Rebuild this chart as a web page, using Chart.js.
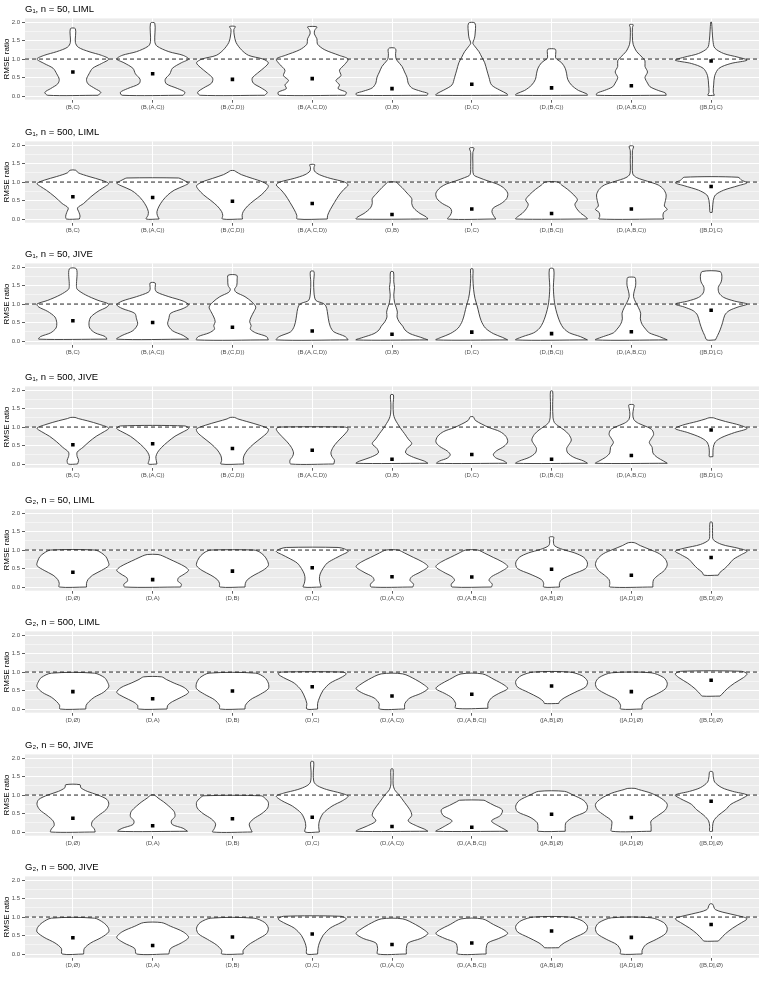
<!DOCTYPE html>
<html>
<head>
<meta charset="utf-8">
<script src="https://cdn.jsdelivr.net/npm/chart.js@4.4.0/dist/chart.umd.min.js"></script>
<style>
  body { margin: 0; background: #fff; }
  #wrap { position: relative; width: 763px; height: 981px; }
  .panel { position: absolute; left: 0; width: 763px; }
</style>
</head>
<body>
<div id="wrap"></div>
<script>
// categories
const g1Labels = ['(B,C)', '(B,(A,C))', '(B,(C,D))', '(B,(A,C,D))', '(D,B)', '(D,C)', '(D,(B,C))', '(D,(A,B,C))', '([B,D],C)'];
const g2Labels = ['(D,Ø)', '(D,A)', '(D,B)', '(D,C)', '(D,(A,C))', '(D,(A,B,C))', '([A,B],Ø)', '([A,D],Ø)', '([B,D],Ø)'];
const panelTitles = ['G₁, n = 50, LIML', 'G₁, n = 500, LIML', 'G₁, n = 50, JIVE', 'G₁, n = 500, JIVE',
                     'G₂, n = 50, LIML', 'G₂, n = 500, LIML', 'G₂, n = 50, JIVE', 'G₂, n = 500, JIVE'];

// y axis ticks
const yTickValues = [0, 0.25, 0.5, 0.75, 1, 1.25, 1.5, 1.75, 2];
const yMajor = [0, 0.5, 1, 1.5, 2];
const yTickLabels = ['0.0', '0.5', '1.0', '1.5', '2.0'];
const refLine = 1;

// mean RMSE ratio per category
const meansG1n50LIML  = [0.65, 0.60, 0.45, 0.47, 0.20, 0.32, 0.22, 0.28, 0.95];
const meansG1n500LIML = [0.60, 0.58, 0.48, 0.42, 0.12, 0.27, 0.15, 0.27, 0.88];
const meansG1n50JIVE  = [0.55, 0.50, 0.37, 0.27, 0.18, 0.24, 0.20, 0.25, 0.83];
const meansG1n500JIVE = [0.52, 0.55, 0.42, 0.37, 0.13, 0.26, 0.13, 0.23, 0.92];
const meansG2n50LIML  = [0.40, 0.20, 0.43, 0.52, 0.28, 0.27, 0.48, 0.32, 0.80];
const meansG2n500LIML = [0.47, 0.28, 0.49, 0.60, 0.35, 0.40, 0.62, 0.47, 0.78];
const meansG2n50JIVE  = [0.37, 0.17, 0.36, 0.40, 0.15, 0.13, 0.48, 0.39, 0.83];
const meansG2n500JIVE = [0.44, 0.23, 0.46, 0.54, 0.26, 0.30, 0.62, 0.45, 0.80];

// violin outlines: [ratio, relative density width] from bottom to top
const violinsG1n50LIML = [
  [[0.02,0.7],[0.1,0.78],[0.2,0.62],[0.33,0.42],[0.45,0.38],[0.6,0.45],[0.75,0.55],[0.88,0.8],[1.0,1.0],[1.1,0.8],[1.2,0.45],[1.32,0.15],[1.45,0.07],[1.82,0.07]],
  [[0.02,0.85],[0.1,0.9],[0.2,0.7],[0.33,0.38],[0.45,0.35],[0.6,0.48],[0.75,0.55],[0.9,0.8],[1.0,1.0],[1.1,0.85],[1.2,0.45],[1.35,0.12],[1.47,0.06],[1.97,0.06]],
  [[0.02,0.9],[0.1,0.97],[0.22,0.8],[0.35,0.58],[0.48,0.55],[0.62,0.7],[0.78,0.9],[0.9,1.0],[1.0,0.85],[1.1,0.45],[1.25,0.25],[1.45,0.1],[1.65,0.05],[1.8,0.04],[1.88,0.08]],
  [[0.02,0.92],[0.1,0.95],[0.2,0.72],[0.3,0.76],[0.42,0.66],[0.55,0.8],[0.7,0.76],[0.85,0.9],[1.0,1.0],[1.1,0.75],[1.25,0.35],[1.4,0.15],[1.55,0.13],[1.68,0.06],[1.78,0.07],[1.87,0.13]],
  [[0.02,0.98],[0.07,1.0],[0.13,0.8],[0.22,0.55],[0.35,0.45],[0.5,0.42],[0.65,0.35],[0.8,0.28],[0.95,0.15],[1.02,0.11],[1.15,0.1],[1.25,0.11],[1.3,0.07]],
  [[0.02,1.0],[0.06,0.98],[0.16,0.78],[0.3,0.55],[0.5,0.48],[0.7,0.42],[0.9,0.36],[1.05,0.28],[1.2,0.2],[1.35,0.08],[1.43,0.03],[1.55,0.07],[1.65,0.09],[1.97,0.09]],
  [[0.02,1.0],[0.06,0.98],[0.15,0.75],[0.3,0.55],[0.45,0.45],[0.6,0.42],[0.75,0.38],[0.9,0.28],[1.0,0.14],[1.05,0.11],[1.2,0.12],[1.27,0.1]],
  [[0.02,0.97],[0.08,0.95],[0.15,0.75],[0.25,0.52],[0.35,0.45],[0.5,0.38],[0.65,0.45],[0.8,0.38],[0.95,0.38],[1.05,0.3],[1.2,0.15],[1.4,0.05],[1.6,0.03],[1.85,0.03],[1.93,0.05]],
  [[0.02,0.09],[0.1,0.06],[0.3,0.07],[0.55,0.1],[0.75,0.22],[0.88,0.55],[0.97,1.0],[1.05,0.75],[1.15,0.35],[1.3,0.1],[1.5,0.05],[1.75,0.03],[2.0,0.01]]
];
const violinsG1n500LIML = [
  [[0.0,0.18],[0.08,0.2],[0.18,0.17],[0.3,0.13],[0.42,0.3],[0.6,0.5],[0.78,0.74],[0.88,0.9],[0.96,1.0],[1.05,0.8],[1.15,0.45],[1.25,0.15],[1.32,0.08]],
  [[0.0,0.18],[0.1,0.13],[0.2,0.12],[0.35,0.18],[0.5,0.28],[0.65,0.42],[0.78,0.6],[0.9,0.88],[0.97,1.0],[1.03,0.9],[1.08,0.8],[1.11,0.72]],
  [[0.0,0.28],[0.1,0.27],[0.2,0.3],[0.35,0.42],[0.5,0.6],[0.65,0.8],[0.8,0.95],[0.9,1.0],[1.0,0.85],[1.1,0.55],[1.2,0.25],[1.28,0.1],[1.31,0.05]],
  [[0.0,0.42],[0.1,0.43],[0.25,0.5],[0.45,0.62],[0.65,0.75],[0.8,0.88],[0.92,1.0],[1.0,0.9],[1.1,0.5],[1.2,0.2],[1.3,0.06],[1.4,0.05],[1.47,0.07]],
  [[0.0,1.0],[0.06,0.95],[0.15,0.78],[0.3,0.6],[0.42,0.55],[0.55,0.55],[0.7,0.42],[0.85,0.28],[0.95,0.17],[1.0,0.12]],
  [[0.0,0.67],[0.1,0.6],[0.2,0.56],[0.3,0.6],[0.42,0.82],[0.55,0.97],[0.7,1.0],[0.85,0.88],[0.95,0.7],[1.03,0.45],[1.12,0.2],[1.2,0.05],[1.5,0.03],[1.8,0.03],[1.92,0.06]],
  [[0.0,1.0],[0.06,0.95],[0.15,0.82],[0.28,0.7],[0.4,0.65],[0.52,0.72],[0.65,0.62],[0.8,0.45],[0.92,0.28],[1.0,0.18]],
  [[0.0,0.9],[0.08,0.88],[0.18,0.9],[0.26,1.0],[0.35,0.92],[0.5,0.95],[0.65,0.97],[0.8,0.9],[0.92,0.75],[1.02,0.45],[1.12,0.15],[1.22,0.04],[1.6,0.03],[1.85,0.03],[1.97,0.06]],
  [[0.18,0.03],[0.3,0.04],[0.5,0.06],[0.65,0.12],[0.78,0.35],[0.9,0.75],[0.98,1.0],[1.05,0.85],[1.13,0.75]]
];
const violinsG1n50JIVE = [
  [[0.05,0.95],[0.12,0.9],[0.22,0.62],[0.35,0.47],[0.5,0.45],[0.65,0.5],[0.8,0.7],[0.92,0.95],[1.0,1.0],[1.1,0.7],[1.25,0.35],[1.4,0.12],[1.5,0.1],[1.95,0.1]],
  [[0.05,1.0],[0.15,0.85],[0.28,0.55],[0.45,0.42],[0.6,0.45],[0.75,0.5],[0.88,0.85],[0.98,1.0],[1.08,0.85],[1.2,0.45],[1.32,0.12],[1.4,0.07],[1.57,0.07]],
  [[0.03,1.0],[0.12,0.95],[0.22,0.65],[0.32,0.5],[0.42,0.52],[0.52,0.48],[0.65,0.52],[0.8,0.6],[0.92,0.65],[1.05,0.55],[1.2,0.35],[1.32,0.1],[1.4,0.06],[1.5,0.12],[1.65,0.13],[1.78,0.12]],
  [[0.03,1.0],[0.12,0.92],[0.25,0.6],[0.4,0.5],[0.6,0.45],[0.8,0.42],[0.95,0.38],[1.02,0.3],[1.1,0.1],[1.3,0.05],[1.6,0.04],[1.88,0.05]],
  [[0.03,1.0],[0.1,0.8],[0.2,0.5],[0.3,0.36],[0.4,0.3],[0.52,0.2],[0.65,0.14],[0.78,0.15],[0.9,0.12],[1.05,0.07],[1.25,0.05],[1.45,0.07],[1.6,0.05],[1.87,0.04]],
  [[0.03,1.0],[0.1,0.85],[0.2,0.6],[0.35,0.38],[0.55,0.26],[0.75,0.2],[0.95,0.15],[1.15,0.09],[1.4,0.05],[1.7,0.03],[1.95,0.03]],
  [[0.03,1.0],[0.12,0.8],[0.22,0.5],[0.35,0.33],[0.5,0.24],[0.65,0.18],[0.85,0.12],[1.05,0.08],[1.25,0.06],[1.45,0.05],[1.95,0.06]],
  [[0.03,1.0],[0.12,0.78],[0.22,0.5],[0.32,0.4],[0.45,0.3],[0.6,0.25],[0.75,0.26],[0.9,0.2],[1.05,0.12],[1.2,0.06],[1.35,0.08],[1.5,0.12],[1.65,0.12],[1.72,0.1]],
  [[0.03,0.12],[0.15,0.18],[0.3,0.25],[0.5,0.32],[0.7,0.38],[0.82,0.5],[0.92,0.75],[1.0,1.0],[1.08,0.65],[1.18,0.35],[1.3,0.22],[1.45,0.2],[1.6,0.28],[1.75,0.3],[1.88,0.25]]
];
const violinsG1n500JIVE = [
  [[0.0,0.13],[0.1,0.16],[0.2,0.12],[0.32,0.12],[0.45,0.28],[0.6,0.45],[0.75,0.65],[0.88,0.88],[0.97,1.0],[1.07,0.75],[1.17,0.4],[1.23,0.15],[1.26,0.06]],
  [[0.0,0.12],[0.1,0.1],[0.2,0.09],[0.32,0.14],[0.45,0.25],[0.6,0.42],[0.75,0.62],[0.87,0.85],[0.96,1.0],[1.03,0.9]],
  [[0.0,0.32],[0.1,0.3],[0.22,0.32],[0.38,0.42],[0.55,0.6],[0.72,0.82],[0.85,0.97],[0.95,1.0],[1.05,0.75],[1.15,0.4],[1.22,0.15],[1.26,0.06]],
  [[0.0,0.6],[0.1,0.62],[0.2,0.55],[0.3,0.52],[0.45,0.58],[0.6,0.7],[0.75,0.85],[0.88,0.97],[0.96,1.0],[1.0,0.9]],
  [[0.02,1.0],[0.08,0.9],[0.18,0.6],[0.3,0.38],[0.42,0.42],[0.55,0.55],[0.68,0.45],[0.82,0.35],[0.95,0.25],[1.1,0.15],[1.22,0.08],[1.35,0.04],[1.6,0.03],[1.87,0.04]],
  [[0.02,0.98],[0.08,0.9],[0.16,0.68],[0.25,0.6],[0.35,0.68],[0.48,0.9],[0.6,1.0],[0.75,0.95],[0.88,0.78],[0.98,0.5],[1.08,0.28],[1.18,0.1],[1.25,0.06],[1.28,0.04]],
  [[0.02,1.0],[0.08,0.9],[0.18,0.62],[0.3,0.45],[0.42,0.42],[0.52,0.48],[0.65,0.55],[0.8,0.48],[0.92,0.35],[1.02,0.2],[1.12,0.08],[1.25,0.04],[1.6,0.03],[1.97,0.03]],
  [[0.02,1.0],[0.08,0.9],[0.18,0.72],[0.3,0.6],[0.45,0.58],[0.58,0.5],[0.68,0.55],[0.8,0.62],[0.92,0.58],[1.0,0.45],[1.1,0.2],[1.2,0.07],[1.35,0.04],[1.5,0.06],[1.6,0.07]],
  [[0.2,0.05],[0.3,0.05],[0.45,0.06],[0.6,0.12],[0.72,0.3],[0.85,0.65],[0.96,1.0],[1.05,0.8],[1.15,0.4],[1.22,0.15],[1.25,0.06]]
];
const violinsG2n50LIML = [
  [[0.0,0.38],[0.1,0.38],[0.2,0.42],[0.32,0.55],[0.45,0.8],[0.58,1.0],[0.7,0.98],[0.82,0.92],[0.92,0.8],[1.0,0.62]],
  [[0.0,0.78],[0.08,0.8],[0.16,0.7],[0.25,0.72],[0.35,0.88],[0.45,1.0],[0.55,0.9],[0.65,0.7],[0.75,0.48],[0.84,0.28],[0.88,0.15]],
  [[0.0,0.35],[0.1,0.36],[0.2,0.42],[0.32,0.6],[0.45,0.85],[0.58,1.0],[0.72,0.97],[0.85,0.88],[0.95,0.75],[1.0,0.6]],
  [[0.0,0.25],[0.1,0.22],[0.22,0.2],[0.35,0.22],[0.5,0.3],[0.65,0.42],[0.78,0.65],[0.88,0.85],[0.96,1.0],[1.03,0.9],[1.07,0.72]],
  [[0.0,0.58],[0.08,0.6],[0.18,0.5],[0.28,0.55],[0.4,0.78],[0.55,1.0],[0.68,0.85],[0.8,0.6],[0.92,0.35],[1.0,0.17]],
  [[0.0,0.55],[0.08,0.57],[0.18,0.48],[0.28,0.55],[0.4,0.78],[0.55,1.0],[0.68,0.85],[0.8,0.6],[0.92,0.35],[1.0,0.17]],
  [[0.0,0.22],[0.1,0.22],[0.2,0.28],[0.35,0.6],[0.5,0.95],[0.65,1.0],[0.8,0.9],[0.92,0.65],[1.02,0.3],[1.12,0.08],[1.25,0.05],[1.35,0.06]],
  [[0.0,0.6],[0.1,0.6],[0.2,0.62],[0.32,0.75],[0.45,0.92],[0.6,1.0],[0.75,0.95],[0.9,0.78],[1.02,0.5],[1.12,0.25],[1.2,0.08]],
  [[0.32,0.2],[0.4,0.25],[0.5,0.38],[0.62,0.5],[0.75,0.62],[0.88,0.85],[0.97,1.0],[1.05,0.75],[1.15,0.3],[1.28,0.06],[1.45,0.04],[1.75,0.03]]
];
const violinsG2n500LIML = [
  [[0.0,0.36],[0.1,0.37],[0.2,0.45],[0.32,0.6],[0.45,0.85],[0.6,1.0],[0.72,0.97],[0.85,0.88],[0.97,0.6]],
  [[0.0,0.4],[0.1,0.42],[0.2,0.55],[0.32,0.8],[0.45,1.0],[0.58,0.88],[0.7,0.6],[0.8,0.38],[0.87,0.25]],
  [[0.0,0.35],[0.1,0.36],[0.25,0.5],[0.4,0.78],[0.55,1.0],[0.7,1.0],[0.85,0.9],[0.97,0.65]],
  [[0.0,0.15],[0.15,0.15],[0.3,0.2],[0.5,0.3],[0.7,0.5],[0.85,0.8],[0.95,0.95],[1.0,0.85]],
  [[0.0,0.35],[0.15,0.36],[0.3,0.5],[0.42,0.8],[0.55,1.0],[0.65,0.9],[0.8,0.65],[0.95,0.3]],
  [[0.02,0.45],[0.15,0.45],[0.3,0.55],[0.42,0.75],[0.55,1.0],[0.65,0.9],[0.8,0.62],[0.95,0.3]],
  [[0.15,0.2],[0.2,0.22],[0.3,0.35],[0.45,0.65],[0.6,0.95],[0.75,1.0],[0.9,0.85],[1.0,0.5]],
  [[0.0,0.3],[0.1,0.3],[0.25,0.4],[0.4,0.7],[0.55,0.95],[0.7,1.0],[0.85,0.9],[0.98,0.55]],
  [[0.35,0.25],[0.4,0.3],[0.55,0.45],[0.7,0.65],[0.85,0.9],[0.95,1.0],[1.02,0.85]]
];
const violinsG2n50JIVE = [
  [[0.0,0.62],[0.08,0.6],[0.18,0.52],[0.3,0.55],[0.45,0.72],[0.6,0.92],[0.75,1.0],[0.88,0.95],[1.0,0.7],[1.1,0.4],[1.2,0.22],[1.28,0.2]],
  [[0.02,0.97],[0.1,0.85],[0.2,0.55],[0.3,0.52],[0.42,0.62],[0.55,0.6],[0.7,0.45],[0.82,0.3],[0.92,0.15],[1.0,0.05]],
  [[0.0,0.55],[0.1,0.5],[0.22,0.47],[0.35,0.58],[0.5,0.82],[0.65,0.98],[0.8,1.0],[0.92,0.9],[0.98,0.8]],
  [[0.0,0.2],[0.15,0.18],[0.3,0.2],[0.5,0.3],[0.7,0.55],[0.85,0.85],[0.97,1.0],[1.05,0.8],[1.15,0.4],[1.25,0.15],[1.35,0.05],[1.6,0.03],[1.9,0.04]],
  [[0.02,1.0],[0.08,0.9],[0.15,0.72],[0.3,0.45],[0.45,0.55],[0.6,0.5],[0.8,0.35],[1.0,0.2],[1.15,0.07],[1.3,0.03],[1.7,0.03]],
  [[0.02,1.0],[0.08,0.9],[0.16,0.75],[0.3,0.55],[0.45,0.8],[0.6,0.85],[0.72,0.62],[0.82,0.42],[0.86,0.34]],
  [[0.02,0.38],[0.1,0.38],[0.25,0.4],[0.4,0.6],[0.55,0.95],[0.7,1.0],[0.85,0.9],[1.0,0.6],[1.1,0.36]],
  [[0.02,0.55],[0.15,0.55],[0.3,0.55],[0.45,0.75],[0.6,0.95],[0.75,1.0],[0.9,0.85],[1.05,0.55],[1.15,0.2],[1.18,0.1]],
  [[0.02,0.04],[0.15,0.04],[0.3,0.07],[0.45,0.2],[0.6,0.4],[0.75,0.55],[0.9,0.85],[1.0,1.0],[1.1,0.6],[1.2,0.3],[1.35,0.1],[1.5,0.06],[1.63,0.04]]
];
const violinsG2n500JIVE = [
  [[0.0,0.3],[0.15,0.32],[0.3,0.5],[0.45,0.8],[0.6,1.0],[0.72,0.98],[0.85,0.85],[0.97,0.6]],
  [[0.0,0.45],[0.15,0.5],[0.3,0.8],[0.45,1.0],[0.6,0.85],[0.75,0.5],[0.85,0.25]],
  [[0.0,0.3],[0.1,0.3],[0.25,0.45],[0.4,0.7],[0.55,0.95],[0.7,1.0],[0.85,0.9],[0.97,0.6]],
  [[0.0,0.15],[0.15,0.16],[0.3,0.2],[0.5,0.3],[0.7,0.5],[0.85,0.8],[0.95,0.95],[1.02,0.8]],
  [[0.0,0.4],[0.15,0.4],[0.3,0.45],[0.42,0.8],[0.55,1.0],[0.65,0.9],[0.8,0.65],[0.95,0.3]],
  [[0.0,0.4],[0.15,0.4],[0.3,0.45],[0.42,0.75],[0.55,1.0],[0.65,0.9],[0.8,0.6],[0.95,0.3]],
  [[0.17,0.2],[0.2,0.22],[0.3,0.35],[0.45,0.65],[0.6,0.95],[0.75,1.0],[0.9,0.85],[1.0,0.5]],
  [[0.0,0.3],[0.1,0.3],[0.25,0.4],[0.4,0.7],[0.55,0.95],[0.7,1.0],[0.85,0.9],[0.98,0.55]],
  [[0.35,0.2],[0.4,0.25],[0.55,0.4],[0.7,0.6],[0.85,0.85],[0.95,1.0],[1.0,0.9],[1.08,0.55],[1.2,0.12],[1.35,0.04]]
];

const panels = [
  { title: panelTitles[0], labels: g1Labels, violins: violinsG1n50LIML,  means: meansG1n50LIML },
  { title: panelTitles[1], labels: g1Labels, violins: violinsG1n500LIML, means: meansG1n500LIML },
  { title: panelTitles[2], labels: g1Labels, violins: violinsG1n50JIVE,  means: meansG1n50JIVE },
  { title: panelTitles[3], labels: g1Labels, violins: violinsG1n500JIVE, means: meansG1n500JIVE },
  { title: panelTitles[4], labels: g2Labels, violins: violinsG2n50LIML,  means: meansG2n50LIML },
  { title: panelTitles[5], labels: g2Labels, violins: violinsG2n500LIML, means: meansG2n500LIML },
  { title: panelTitles[6], labels: g2Labels, violins: violinsG2n50JIVE,  means: meansG2n50JIVE },
  { title: panelTitles[7], labels: g2Labels, violins: violinsG2n500JIVE, means: meansG2n500JIVE }
];

Chart.defaults.font.family = '"Liberation Sans", Arial, sans-serif';

const halfWidth = 0.45;   // ggplot default violin width 0.9

// gray panel background like theme_gray
const panelBackground = {
  id: 'panelBackground',
  beforeDraw(chart) {
    const { ctx, chartArea: a } = chart;
    ctx.save();
    ctx.fillStyle = '#EBEBEB';
    ctx.fillRect(a.left, a.top, a.right - a.left, a.bottom - a.top);
    ctx.restore();
  }
};

// closed outline: right side going up, left side coming down
function violinOutline(profile, center) {
  const right = profile.map(p => ({ x: center + p[1] * halfWidth, y: p[0] }));
  const left = profile.slice().reverse().map(p => ({ x: center - p[1] * halfWidth, y: p[0] }));
  return right.concat(left, [right[0]]);
}

const wrap = document.getElementById('wrap');
const panelH = 981 / panels.length;

panels.forEach((p, idx) => {
  const top = Math.round(idx * panelH);
  const h = Math.round((idx + 1) * panelH) - top;
  const div = document.createElement('div');
  div.className = 'panel';
  div.style.top = top + 'px';
  div.style.height = h + 'px';
  const canvas = document.createElement('canvas');
  div.appendChild(canvas);
  wrap.appendChild(div);

  const datasets = [];
  // mean markers
  datasets.push({
    data: p.means.map((m, i) => ({ x: i + 1, y: m })),
    showLine: false,
    pointStyle: 'rect',
    pointRadius: 2.5,
    pointBackgroundColor: '#000',
    pointBorderWidth: 0,
    order: 0
  });
  // dashed reference line
  datasets.push({
    data: [{ x: 0.4, y: refLine }, { x: 9.6, y: refLine }],
    borderColor: '#222',
    borderWidth: 1,
    borderDash: [4, 3],
    pointRadius: 0,
    fill: false,
    order: 1
  });
  p.violins.forEach((v, i) => {
    datasets.push({
      data: violinOutline(v, i + 1),
      borderColor: '#333',
      borderWidth: 0.9,
      backgroundColor: '#fff',
      fill: 'shape',
      tension: 0.3,
      pointRadius: 0,
      order: 2
    });
  });

  new Chart(canvas, {
    type: 'line',
    data: { datasets: datasets },
    options: {
      animation: false,
      responsive: true,
      maintainAspectRatio: false,
      events: [],
      layout: { padding: { left: 0, right: 4, top: 0, bottom: h - 13 - 99.7 } },
      plugins: {
        legend: { display: false },
        tooltip: { enabled: false },
        title: {
          display: true,
          text: p.title,
          align: 'start',
          fullSize: false,
          color: '#000',
          font: { size: 9.5, weight: 'normal' },
          padding: { top: 4, bottom: 3 }
        }
      },
      scales: {
        x: {
          type: 'linear',
          min: 0.4,
          max: 9.6,
          afterBuildTicks: s => { s.ticks = p.labels.map((l, i) => ({ value: i + 1 })); },
          afterFit: s => { s.height = 13; },
          border: { display: false },
          grid: { color: '#fff', lineWidth: 1, tickLength: 3, tickColor: '#333', tickWidth: 0.8 },
          ticks: {
            autoSkip: false,
            maxRotation: 0,
            padding: 1,
            color: '#4D4D4D',
            font: { size: 6 },
            callback: v => p.labels[Math.round(v) - 1]
          }
        },
        y: {
          min: -0.1,
          max: 2.1,
          afterBuildTicks: s => { s.ticks = yTickValues.map(v => ({ value: v })); },
          afterFit: s => { s.width = 25; },
          border: { display: false },
          title: { display: true, text: 'RMSE ratio', color: '#000', font: { size: 8 }, padding: { top: 2, bottom: 0 } },
          grid: {
            color: '#fff',
            lineWidth: c => (yMajor.includes(c.tick.value) ? 1 : 0.5),
            tickLength: 3,
            tickWidth: 0.8,
            tickColor: c => (yMajor.includes(c.tick.value) ? '#333' : 'rgba(0,0,0,0)')
          },
          ticks: {
            autoSkip: false,
            padding: 2,
            color: '#4D4D4D',
            font: { size: 6 },
            callback: v => { const k = yMajor.indexOf(v); return k >= 0 ? yTickLabels[k] : ''; }
          }
        }
      }
    },
    plugins: [panelBackground]
  });
});
</script>
</body>
</html>
